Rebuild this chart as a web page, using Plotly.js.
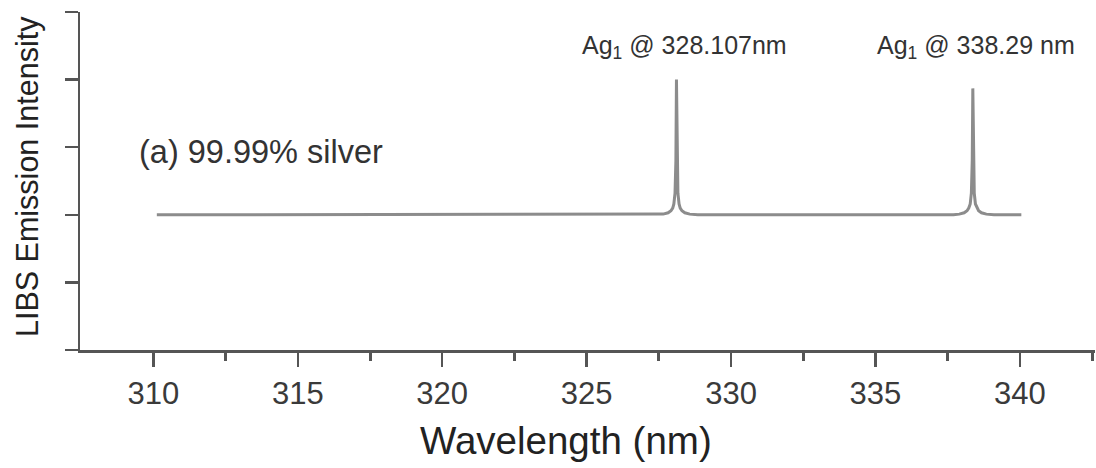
<!DOCTYPE html>
<html>
<head>
<meta charset="utf-8">
<script src="https://cdn.plot.ly/plotly-3.0.1.min.js"></script>
<style>html,body{margin:0;padding:0;background:#fff;}#chart{width:1096px;height:468px;}</style>
</head>
<body>
<div id="chart"></div>
<script>
// Spectrum (wavelength in nm, intensity in arbitrary units)
var wavelength = [310.12, 327.4, 327.65, 327.82, 327.92, 327.98, 328.02, 328.06, 328.09, 328.11, 328.13, 328.16, 328.2, 328.24, 328.3, 328.4, 328.57, 328.85,
                  337.7, 337.9, 338.07, 338.17, 338.23, 338.28, 338.32, 338.35, 338.37, 338.39, 338.42, 338.46, 338.51, 338.57, 338.67, 338.84, 339.1, 340.05];
var intensity  = [2.0, 2.0, 2.01, 2.03, 2.06, 2.1, 2.16, 2.32, 2.8, 4.0, 2.8, 2.32, 2.16, 2.1, 2.06, 2.03, 2.01, 2.0,
                  2.0, 2.01, 2.03, 2.06, 2.1, 2.16, 2.32, 2.8, 3.87, 2.8, 2.32, 2.16, 2.1, 2.06, 2.03, 2.01, 2.0, 2.0];
var yTicks = [0, 1, 2, 3, 4, 5];
var xTicks = [310, 315, 320, 325, 330, 335, 340];
var peakLabels = ["Ag<sub>1</sub> @ 328.107nm", "Ag<sub>1</sub> @ 338.29 nm"];
var peakLabelX = [328.39, 338.49];
var sampleLabel = "(a) 99.99% silver";

var font = "Liberation Sans, Arial, sans-serif";
var L = 80, R = 1, T = 12, B = 118, W = 1096, H = 468;
var pw = W - L - R, ph = H - T - B;

var annotations = [];
for (var i = 0; i < peakLabels.length; i++) {
  annotations.push({x: peakLabelX[i], y: 4.48, xref: 'x', yref: 'y', text: peakLabels[i], showarrow: false,
    xanchor: 'center', yanchor: 'middle', font: {family: font, size: 25, color: '#333'}});
}
annotations.push({x: 309.43, y: 2.93, xref: 'x', yref: 'y', text: sampleLabel, showarrow: false,
  xanchor: 'left', yanchor: 'middle', font: {family: font, size: 32.5, color: '#333'}});
annotations.push({x: (566 - L) / pw, y: (H - B - 440) / ph, xref: 'paper', yref: 'paper', text: 'Wavelength (nm)', showarrow: false,
  xanchor: 'center', yanchor: 'middle', font: {family: font, size: 38.5, color: '#222'}});
annotations.push({x: (27 - L) / pw, y: (H - B - 177) / ph, xref: 'paper', yref: 'paper', text: 'LIBS Emission Intensity', showarrow: false,
  textangle: -90, xanchor: 'center', yanchor: 'middle', font: {family: font, size: 30.5, color: '#222'}});

var trace = {x: wavelength, y: intensity, type: 'scatter', mode: 'lines',
  line: {color: '#8c8c8c', width: 3}, hoverinfo: 'skip'};

var layout = {
  width: W, height: H,
  margin: {l: L, r: R, t: T, b: B},
  paper_bgcolor: '#fff', plot_bgcolor: '#fff',
  showlegend: false,
  xaxis: {range: [307.46, 342.6], tickvals: xTicks, ticks: 'outside', ticklen: 14, tickwidth: 2.5, tickcolor: '#555',
    showline: true, linecolor: '#555', linewidth: 2.5, showgrid: false, zeroline: false,
    tickfont: {family: font, size: 31, color: '#3a3a3a'},
    minor: {tickvals: [312.5, 317.5, 322.5, 327.5, 332.5, 337.5, 342.5], ticks: 'outside', ticklen: 8, tickwidth: 3, tickcolor: '#555', showgrid: false}},
  yaxis: {range: [0, 5], tickvals: yTicks, ticks: 'outside', ticklen: 13, tickwidth: 2.5, tickcolor: '#555',
    showticklabels: false, showline: true, linecolor: '#555', linewidth: 2.5, showgrid: false, zeroline: false},
  annotations: annotations
};
Plotly.newPlot('chart', [trace], layout, {displayModeBar: false, staticPlot: true});
</script>
</body>
</html>
